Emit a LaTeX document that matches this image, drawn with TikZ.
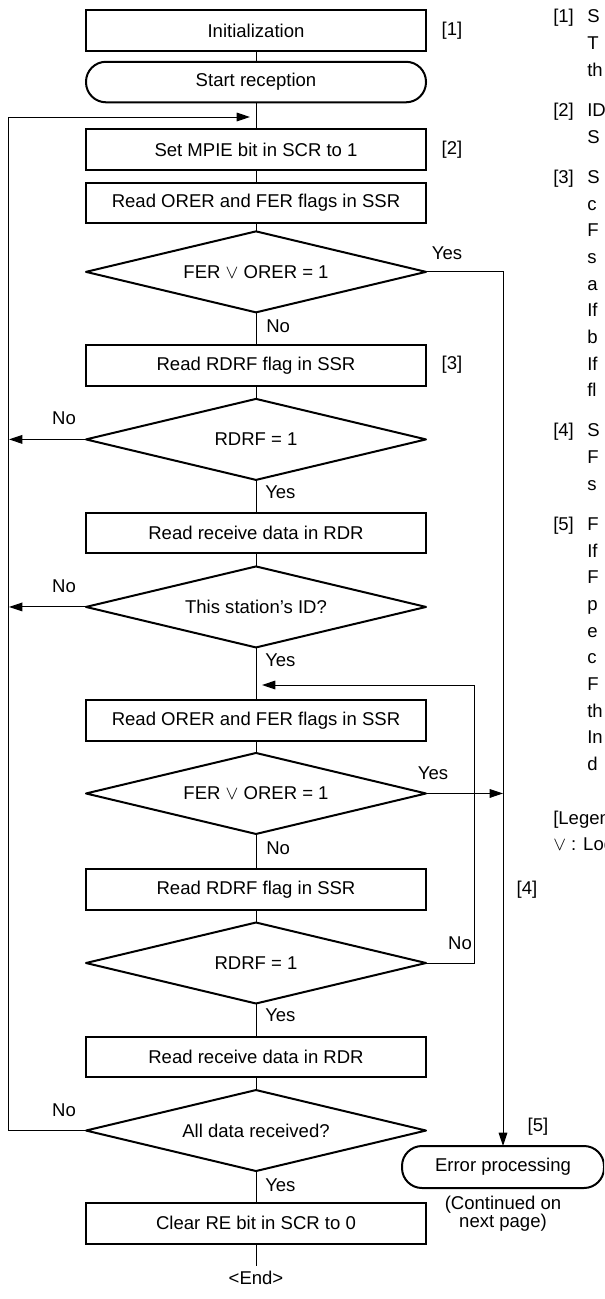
\documentclass[tikz,border=0pt]{standalone}
\usepackage{fontspec}
\setmainfont{Liberation Sans}
\usetikzlibrary{arrows.meta,positioning,shapes.geometric}

\tikzset{
  flowbox/.style={draw, line width=1.5pt, minimum width=255pt, minimum height=30.4pt, inner sep=0pt, outer sep=0pt},
  termbox/.style={flowbox, rounded corners=15pt},
  decision/.style={draw, diamond, line width=1.5pt, line join=round, aspect=4.2, minimum width=255pt, minimum height=60.75pt, inner sep=0pt, outer sep=0pt},
  link/.style={line width=0.75pt},
  arr/.style={link, -{Triangle[length=10pt,width=6.5pt]}},
  lbl/.style={inner sep=0pt, text height=10pt, text depth=2.9pt},
  note/.style={anchor=base west, inner sep=0pt},
}

\begin{document}
\begin{tikzpicture}[x=0.75pt, y=-0.75pt, every node/.style={font=\fontsize{13.9pt}{20pt}\selectfont}]
\useasboundingbox (0,0) rectangle (604,1299);
\clip (0,0) rectangle (604,1299);

% main column
\node[flowbox] (init) at (256,30.5) {Initialization};
\node[termbox, below=8.25pt of init] (start) {Start reception};
\node[flowbox, below=20.25pt of start] (mpie) {Set MPIE bit in SCR to 1};
\node[flowbox, below=9.75pt of mpie] (orer1) {Read ORER and FER flags in SSR};
\node[decision, below=6pt of orer1] (d1) {FER $\vee$ ORER = 1};
\node[flowbox, below=24.75pt of d1] (rdrf1) {Read RDRF flag in SSR};
\node[decision, below=9.75pt of rdrf1] (d2) {RDRF = 1};
\node[flowbox, below=24.75pt of d2] (rdr1) {Read receive data in RDR};
\node[decision, below=9.75pt of rdr1] (d3) {This station’s ID?};
\node[flowbox, below=39.75pt of d3] (orer2) {Read ORER and FER flags in SSR};
\node[decision, below=9pt of orer2] (d4) {FER $\vee$ ORER = 1};
\node[flowbox, below=26.25pt of d4] (rdrf2) {Read RDRF flag in SSR};
\node[decision, below=9.75pt of rdrf2] (d5) {RDRF = 1};
\node[flowbox, below=24.75pt of d5] (rdr2) {Read receive data in RDR};
\node[decision, below=9.75pt of rdr2] (d6) {All data received?};
\node[flowbox, below=24pt of d6] (clear) {Clear RE bit in SCR to 0};
\node[below=17pt of clear] (end) {<End>};

% error side
\node[termbox, minimum width=151.5pt, minimum height=31.5pt] (errp) at (503,1167) {Error processing};
\node[align=center, font=\fontsize{13.9pt}{13.5pt}\selectfont] (cont) at (503,1214) {(Continued on\\next page)};

% step marks
\node (s1) at (452,30.5) {[1]};
\node (s2) at (452,149.5) {[2]};
\node (s3) at (452,365) {[3]};
\node (s4) at (527,890) {[4]};
\node (s5) at (538,1127) {[5]};

% loop points
\coordinate (loopA) at (8,117);
\coordinate (joinA) at (250,117);
\coordinate (loopB) at (474,685);
\coordinate (joinB) at (262,685);

% straight flow
\draw[link] (init) -- (start);
\draw[link] (start) -- (mpie);
\draw[link] (mpie) -- (orer1);
\draw[link] (orer1) -- (d1);
\draw[link] (d1) -- (rdrf1);
\draw[link] (rdrf1) -- (d2);
\draw[link] (d2) -- (rdr1);
\draw[link] (rdr1) -- (d3);
\draw[link] (d3) -- (orer2);
\draw[link] (orer2) -- (d4);
\draw[link] (d4) -- (rdrf2);
\draw[link] (rdrf2) -- (d5);
\draw[link] (d5) -- (rdr2);
\draw[link] (rdr2) -- (d6);
\draw[link] (d6) -- (clear);
\draw[link] (clear) -- (end);

% branches
\draw[arr] (d6.west) -| (loopA) -- (joinA);
\draw[arr] (d2.west) -- ([xshift=0.75pt]d2.west -| loopA);
\draw[arr] (d3.west) -- ([xshift=0.75pt]d3.west -| loopA);
\draw[arr] (d1.east) -| (errp.north);
\draw[arr] (d4.east) -- (d4.east -| errp.north);
\draw[arr] (d5.east) -| (loopB) -- (joinB);

% yes / no
\node[lbl] at (447,255) {Yes};
\node[lbl, anchor=west] at (266,328) {No};
\node[lbl] at (64,420) {No};
\node[lbl, anchor=west] at (265,494) {Yes};
\node[lbl] at (64,588) {No};
\node[lbl, anchor=west] at (265,662) {Yes};
\node[lbl] at (433,775) {Yes};
\node[lbl, anchor=west] at (266,850) {No};
\node[lbl] at (460,945) {No};
\node[lbl, anchor=west] at (265,1017) {Yes};
\node[lbl] at (64,1112) {No};
\node[lbl, anchor=west] at (265,1187) {Yes};

% notes column (cut at the page edge)
\node[note] at (553,22.7) {[1]};
\node[note] at (553,116.7) {[2]};
\node[note] at (553,183.7) {[3]};
\node[note] at (553,436.7) {[4]};
\node[note] at (553,530.7) {[5]};
\foreach \y/\t in {22.7/S, 49.7/T, 76.7/th, 116.7/ID, 143.7/S,
  183.7/S, 210.7/c, 236.7/F, 263.7/s, 290.7/a, 316.7/If, 343.7/b, 370.7/If, 396.7/fl,
  436.7/S, 463.7/F, 490.7/s,
  530.7/F, 557.7/If, 583.7/F, 610.7/p, 637.7/e, 663.7/c, 690.7/F, 717.7/th, 743.7/In, 770.7/d}
  \node[note] at (587,\y) {\t};
\node[note] at (553,824.7) {[Legen};
\node[note] at (553,850.7) {$\vee$ : Log};
\end{tikzpicture}
\end{document}
